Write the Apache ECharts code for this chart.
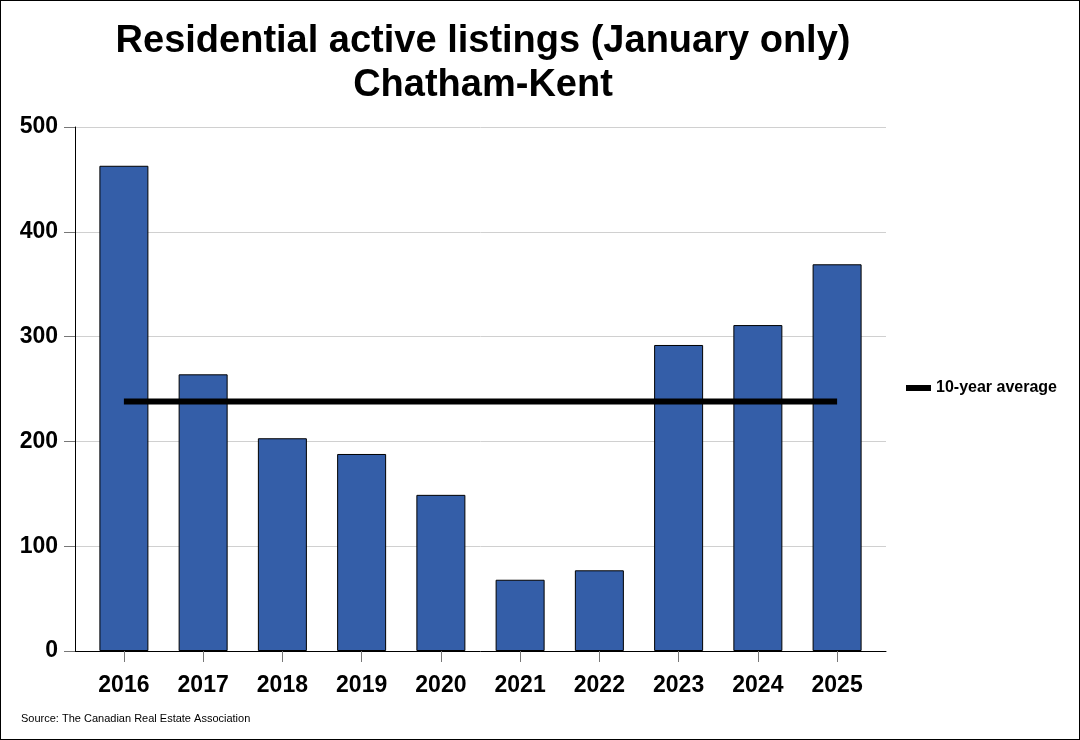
<!DOCTYPE html>
<html><head><meta charset="utf-8">
<script src="https://cdn.jsdelivr.net/npm/echarts@6/dist/echarts.min.js"></script>
<style>html,body{margin:0;padding:0;background:#fff}#c{width:1080px;height:740px;box-sizing:border-box;border:1px solid #000}</style>
</head><body><div id="c"></div>
<script>
const categories = ['2016','2017','2018','2019','2020','2021','2022','2023','2024','2025'];
const listings = [463, 264, 203, 188, 149, 68, 77, 292, 311, 369];
const average = 238;
const yTicks = [0, 100, 200, 300, 400, 500];

const idx = categories.map((c, i) => i);
const chart = echarts.init(document.getElementById('c'), null, {renderer:'canvas'});
const F = 'Liberation Sans, Arial, sans-serif';
chart.setOption({
  animation:false,
  title:{
    text:'Residential active listings (January only)\nChatham-Kent',
    left:477, top:14, textAlign:'center',
    textStyle:{fontFamily:F, fontSize:38, fontWeight:'bold', color:'#000', lineHeight:44}
  },
  graphic:[{type:'text', left:20, top:712, style:{text:'Source: The Canadian Real Estate Association', font:'11px '+F, fill:'#000'}}],
  legend:{
    left:900, top:374, orient:'vertical',
    itemWidth:25, itemHeight:6, itemGap:6,
    textStyle:{fontFamily:F, fontSize:16, fontWeight:'bold', color:'#000'},
    data:[{name:'10-year average', icon:'rect', itemStyle:{color:'#000'}}]
  },
  grid:{left:74, right:193, top:126, bottom:88},
  xAxis:{
    type:'value', min:-0.617, max:9.617,
    splitLine:{show:false},
    axisLine:{show:true, onZero:false, lineStyle:{color:'#000', width:1}},
    axisTick:{show:true, length:11, lineStyle:{color:'#777'}, customValues:idx},
    axisLabel:{fontFamily:F, fontSize:23, fontWeight:'bold', color:'#000', margin:23,
      customValues:idx, formatter:v => categories[Math.round(v)] || ''}
  },
  yAxis:{
    type:'value', min:0, max:500, interval:100,
    axisLine:{show:true, onZero:false, lineStyle:{color:'#000'}},
    axisTick:{show:true, length:11, lineStyle:{color:'#777'}, customValues:yTicks},
    axisLabel:{fontFamily:F, fontSize:23, fontWeight:'bold', color:'#000', margin:17, customValues:yTicks},
    splitLine:{lineStyle:{color:'#d0d0d0'}}
  },
  series:[
    {type:'bar', name:'Listings', data:listings.map((v,i)=>[i,v]), barWidth:49,
     itemStyle:{color:'#345ea8', borderColor:'#000', borderWidth:1}},
    {type:'line', name:'10-year average', data:idx.map(i=>[i,average]),
     symbol:'none', lineStyle:{color:'#000', width:6}, itemStyle:{color:'#000'}, z:5}
  ]
});
</script></body></html>
